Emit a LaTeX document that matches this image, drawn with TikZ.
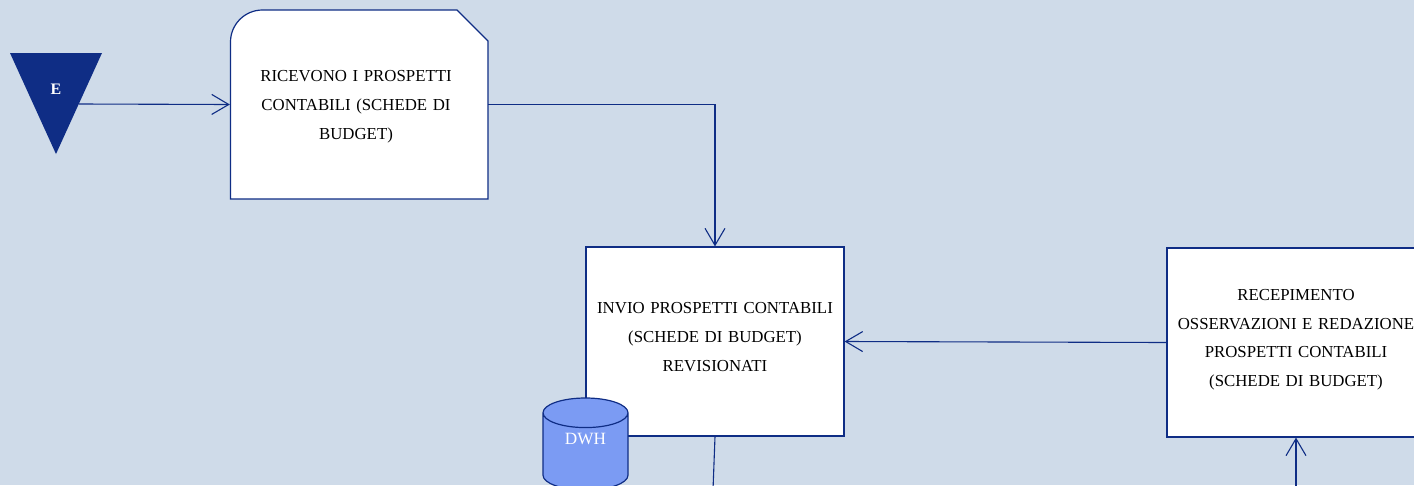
\documentclass[tikz,border=0pt]{standalone}
\usepackage{fontspec}
\setmainfont{Liberation Serif}
\usetikzlibrary{arrows.meta,shapes.geometric}
\definecolor{sfondo}{HTML}{CFDBE9}
\definecolor{blu}{HTML}{0F2D85}
\definecolor{dbblu}{HTML}{7B9BF3}
\newcommand{\giu}[1]{\rule[-#1]{0pt}{0pt}}
\newcommand{\sx}{\rule{6pt}{0pt}}
\tikzset{
  box/.style={rectangle,minimum width=258pt,minimum height=189pt,align=center,text width=254pt,
    inner sep=0pt,font=\fontsize{16.8}{28.8}\selectfont},
  boxfill/.style={box,draw=blu,fill=white,line width=1.2pt},
  freccia/.style={draw=blu,line width=1.1pt,-{Straight Barb[length=17pt,width=20pt,line width=1.1pt]}},
  linea/.style={draw=blu,line width=1.1pt}
}
\begin{document}
\begin{tikzpicture}[x=1pt,y=-1pt]
  \clip (0,0) rectangle (1414,485);
  \fill[sfondo] (0,0) rectangle (1414,485);
  \fill[blu] (10,53) -- (102,53) -- (56,154) -- cycle;
  \node (e) [text=white,font=\bfseries\fontsize{16}{18}\selectfont] at (56,89.5) {E};
  \coordinate (e out) at (79,104);
  \draw[blu,fill=white,line width=1.2pt] (230.5,199) -- (230.5,42) arc[start angle=180,end angle=270,radius=32]
    -- (457,10) -- (488,41) -- (488,199) -- cycle;
  \node (ricevono) [box] at (359,104.5) {\rule{0pt}{16pt}RICEVONO I PROSPETTI\sx\\CONTABILI (SCHEDE DI\sx\\BUDGET)\sx};
  \node (invio) [boxfill] at (715,341.5) {INVIO PROSPETTI CONTABILI\\(SCHEDE DI BUDGET)\\REVISIONATI\giu{9.5pt}};
  \node (recepimento) [boxfill] at (1296,342.5) {RECEPIMENTO\\OSSERVAZIONI E REDAZIONE\\PROSPETTI CONTABILI\\(SCHEDE DI BUDGET)\giu{9pt}};
  \node (dwh) [cylinder,shape border rotate=90,draw=blu,fill=dbblu,line width=1.2pt,aspect=0.72,anchor=shape center,
    minimum width=85pt,minimum height=92pt,inner sep=0pt,text=white,font=\fontsize{17.2}{18}\selectfont] at (585.5,444) {\raisebox{7pt}[0pt][0pt]{DWH}};
  \coordinate (invio out) at (713,490);
  \coordinate (recepimento in) at (1296,490);
  \path[freccia]
    (e out) edge (ricevono.west)
    (ricevono.east) edge [to path={-| (\tikztotarget)}] (invio.north)
    (recepimento.west) edge (invio.east)
    (recepimento in) edge (recepimento.south);
  \path[linea] (invio.south) edge (invio out);
\end{tikzpicture}
\end{document}
